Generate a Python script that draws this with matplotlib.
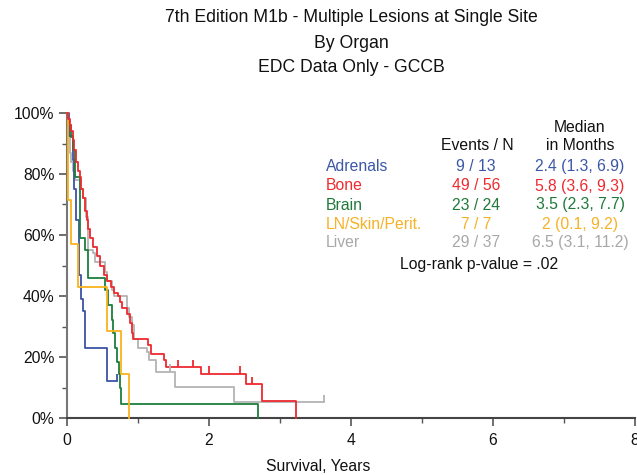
import matplotlib
matplotlib.use("Agg")
import matplotlib.pyplot as plt
from matplotlib.ticker import MultipleLocator, FuncFormatter

plt.rcParams['font.family'] = ['Liberation Sans', 'DejaVu Sans']

# ---- data (years, survival %) ----
adrenals_t = [0, 0.03, 0.08, 0.10, 0.13, 0.165, 0.20, 0.22, 0.25, 0.57, 0.70]
adrenals_s = [100, 92.3, 84.6, 75, 65, 47, 39, 35, 23, 12, 12]
adrenals_cens_t = [0.70]
adrenals_cens_s = [12]

bone_t = [0, 0.02, 0.04, 0.06, 0.08, 0.10, 0.13, 0.15, 0.18, 0.20, 0.23, 0.26, 0.28,
          0.30, 0.32, 0.37, 0.42, 0.46, 0.52, 0.56, 0.62, 0.66, 0.72, 0.75, 0.77,
          0.84, 0.89, 0.91, 0.93, 1.14, 1.19, 1.37, 1.39, 1.89, 2.52, 2.75, 3.23]
bone_s = [100, 98, 96, 94, 91, 88, 84, 81, 79, 75, 72, 68, 65,
          62, 59, 56, 53, 50, 47, 45, 43, 41, 40, 38, 36,
          34, 31, 28, 26, 24, 21, 19, 16.7, 14.5, 11, 5.6, 0]
bone_cens_t = [1.56, 1.77, 2.00, 2.43, 2.60]
bone_cens_s = [16.7, 16.7, 14.5, 14.5, 11]

brain_t = [0, 0.02, 0.05, 0.09, 0.11, 0.18, 0.19, 0.26, 0.30, 0.54, 0.58, 0.63,
           0.65, 0.68, 0.71, 0.73, 0.74, 0.76, 2.69]
brain_s = [100, 96, 92, 88, 79, 64, 59, 55, 46, 42, 37, 32,
           28, 23, 18.5, 14.5, 10, 4.6, 0]

ln_t = [0, 0.01, 0.015, 0.05, 0.16, 0.56, 0.76, 0.87]
ln_s = [100, 85.7, 71.4, 57.1, 42.9, 28.6, 14.3, 0]

liver_t = [0, 0.02, 0.03, 0.04, 0.05, 0.08, 0.11, 0.18, 0.22, 0.27, 0.29, 0.30,
           0.37, 0.40, 0.53, 0.56, 0.63, 0.66, 0.84, 0.88, 0.91, 0.94, 1.00,
           1.13, 1.16, 1.26, 1.52, 2.35, 3.62]
liver_s = [100, 97, 93, 87, 84, 81, 78, 75, 72, 66, 60, 55,
           54, 51, 48, 45, 42, 40, 36, 33, 30.5, 26, 23,
           21.5, 19, 15.2, 10.3, 5.2, 5.2]
liver_cens_t = [1.45, 3.62]
liver_cens_s = [15.2, 5.2]

groups = ["Adrenals", "Bone", "Brain", "LN/Skin/Perit.", "Liver"]
events_n = ["9 / 13", "49 / 56", "23 / 24", "7 / 7", "29 / 37"]
medians = ["2.4 (1.3, 6.9)", "5.8 (3.6, 9.3)", "3.5 (2.3, 7.7)", "2 (0.1, 9.2)", "6.5 (3.1, 11.2)"]
line_colors = ["#3a54a4", "#ee2a2f", "#1b7f3d", "#f9b31b", "#b3b3b3"]
text_colors = ["#3b57a7", "#ee2a2f", "#1f7a3a", "#f6b226", "#a8a8a8"]

xticks = [0, 2, 4, 6, 8]
yticks = [0, 20, 40, 60, 80, 100]

W, H = 637, 475
fig = plt.figure(figsize=(W / 100, H / 100), dpi=100)
ax = fig.add_axes([67 / W, 1 - 418 / H, (635 - 67) / W, (418 - 113) / H])

curves = [(adrenals_t, adrenals_s), (bone_t, bone_s), (brain_t, brain_s),
          (ln_t, ln_s), (liver_t, liver_s)]
order = [4, 0, 2, 3, 1]
for i in order:
    t, s = curves[i]
    ax.step(t, s, where='post', color=line_colors[i], lw=1.3, clip_on=False, zorder=3)

cens = [(adrenals_cens_t, adrenals_cens_s, 0), (bone_cens_t, bone_cens_s, 1),
        (liver_cens_t, liver_cens_s, 4)]
for ct, cs, i in cens:
    ax.vlines(ct, cs, [v + 2.4 for v in cs], color=line_colors[i], lw=1.3, zorder=3)

ax.set_xlim(0, 8)
ax.set_ylim(0, 100)
ax.set_xticks(xticks)
ax.set_yticks(yticks)
ax.xaxis.set_minor_locator(MultipleLocator(1))
ax.yaxis.set_minor_locator(MultipleLocator(10))
ax.yaxis.set_major_formatter(FuncFormatter(lambda v, p: f"{v:.0f}%"))
for sp in ['top', 'right']:
    ax.spines[sp].set_visible(False)
ax.spines['left'].set_color('#777777')
ax.spines['bottom'].set_color('#444444')
ax.spines['left'].set_linewidth(1.5)
ax.spines['bottom'].set_linewidth(1.5)
ax.tick_params(axis='both', which='major', length=6, width=1.2, color='#555555',
               labelsize=11.3, pad=3, labelcolor='#111111')
ax.tick_params(axis='both', which='minor', length=3.5, width=1.0, color='#555555')
ax.tick_params(axis='x', pad=5)

def fx(x):
    return x / W

def fy(y):
    return 1 - y / H

# titles
for txt, y in [("7th Edition M1b - Multiple Lesions at Single Site", 18),
               ("By Organ", 44), ("EDC Data Only - GCCB", 68)]:
    fig.text(fx(351), fy(y), txt, ha='center', va='center', fontsize=12.7, color='#111111')

fig.text(fx(318), fy(459), "Survival, Years", ha='center', va='top', fontsize=11.3, color='#111111')

# table
fs = 11.3
fig.text(fx(580), fy(127), "Median", ha='center', va='center', fontsize=fs, color='#111111')
fig.text(fx(580), fy(146), "in Months", ha='center', va='center', fontsize=fs, color='#111111')
fig.text(fx(477), fy(146), "Events / N", ha='center', va='center', fontsize=fs, color='#111111')
row_y = [167, 186, 205, 224, 243]
for g, en, md, c, y in zip(groups, events_n, medians, text_colors, row_y):
    fig.text(fx(326), fy(y), g, ha='left', va='center', fontsize=fs, color=c)
    fig.text(fx(476), fy(y), en, ha='center', va='center', fontsize=fs, color=c)
    fig.text(fx(580), fy(y), md, ha='center', va='center', fontsize=fs, color=c)
fig.text(fx(479), fy(264), "Log-rank p-value = .02", ha='center', va='center', fontsize=fs, color='#111111')

fig.savefig("out.png", dpi=100)
